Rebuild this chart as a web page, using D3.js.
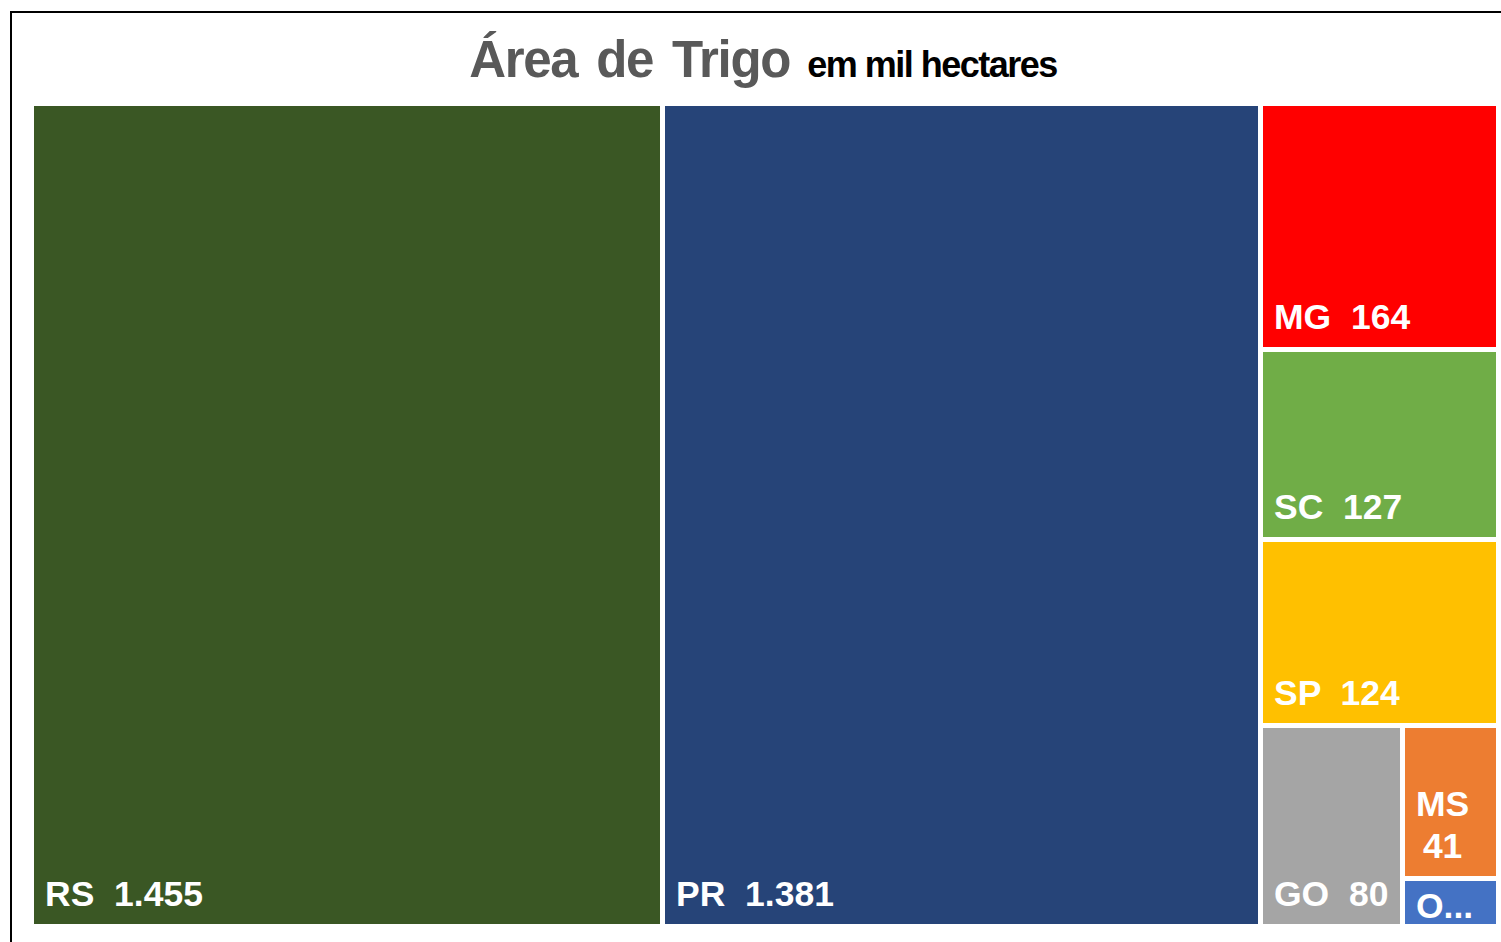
<!DOCTYPE html>
<html>
<head>
<meta charset="utf-8">
<script src="https://cdn.jsdelivr.net/npm/d3@7"></script>
<style>
  html, body { margin: 0; padding: 0; background: #fff; overflow: hidden; }
  svg { display: block; }
</style>
</head>
<body>
<svg id="chart" width="1501" height="942"></svg>
<script>
// ---- data ----
const categories = ["RS", "PR", "MG", "SC", "SP", "GO", "MS", "Outros"];
const areaValues = [1455, 1381, 164, 127, 124, 80, 41, 13];
const colors = ["#3A5724", "#264478", "#FF0000", "#70AD47", "#FFC000", "#A5A5A5", "#ED7D31", "#4472C4"];
const titleMain = "Área de Trigo";
const titleSub = "em mil hectares";

const W = 1501, H = 942;
const svg = d3.select("#chart");

// frame
svg.append("rect")
  .attr("x", 11).attr("y", 12)
  .attr("width", W + 20).attr("height", H + 20)
  .attr("fill", "#fff").attr("stroke", "#000").attr("stroke-width", 2);

// title
const title = svg.append("text")
  .attr("x", 763).attr("y", 77)
  .attr("text-anchor", "middle")
  .style("font-family", "'Liberation Sans', Arial, sans-serif")
  .style("font-weight", "bold")
  .style("white-space", "pre");
title.append("tspan")
  .attr("fill", "#595959")
  .style("font-size", "51px")
  .style("letter-spacing", "-1.3px")
  .style("word-spacing", "6px")
  .text(titleMain);
title.append("tspan")
  .attr("fill", "#000")
  .style("font-size", "36px")
  .style("letter-spacing", "-1.5px")
  .text("  " + titleSub);

// treemap
const plot = { x: 34, y: 106, w: 1462, h: 818 };
const data = {
  name: "root",
  children: categories.map((c, i) => ({ name: c, value: areaValues[i], color: colors[i] }))
};
const root = d3.hierarchy(data).sum(d => d.value || 0).sort((a, b) => b.value - a.value);
d3.treemap()
  .tile(d3.treemapSquarify.ratio(1))
  .size([plot.w, plot.h])
  .paddingInner(5)
  .round(true)(root);

const g = svg.append("g").attr("transform", `translate(${plot.x},${plot.y})`);
const fmt = d3.formatLocale({ decimal: ",", thousands: ".", grouping: [3], currency: ["R$", ""] }).format(",d");

const leaves = g.selectAll("g.leaf").data(root.leaves()).join("g").attr("class", "leaf");
leaves.append("rect")
  .attr("x", d => d.x0).attr("y", d => d.y0)
  .attr("width", d => d.x1 - d.x0).attr("height", d => d.y1 - d.y0)
  .attr("fill", d => d.data.color);

const FS = 35.5, LH = 42, PADX = 11, PADB = 18, TOPBASE = 37;
leaves.each(function (d) {
  const gl = d3.select(this);
  const w = d.x1 - d.x0, h = d.y1 - d.y0;
  const avail = w - 2 * PADX;
  const mk = (s) => gl.append("text")
    .style("font-family", "'Liberation Sans', Arial, sans-serif")
    .style("font-weight", "bold")
    .style("font-size", FS + "px")
    .style("white-space", "pre")
    .attr("fill", "#fff")
    .text(s);
  const full = d.data.name + "  " + fmt(d.value);
  let t = mk(full);
  let lines;
  if (t.node().getComputedTextLength() <= avail) {
    lines = [full];
  } else {
    lines = [d.data.name, fmt(d.value)];
  }
  t.remove();
  const maxLines = Math.max(1, Math.floor((h - 2) / LH));
  if (lines.length > maxLines) lines = lines.slice(0, maxLines);
  const texts = lines.map(s => {
    let tt = mk(s);
    if (tt.node().getComputedTextLength() > avail) {
      let k = s.length - 1;
      while (k > 0) {
        tt.text(s.slice(0, k) + "...");
        if (tt.node().getComputedTextLength() <= avail) break;
        k--;
      }
    }
    return tt;
  });
  const widths = texts.map(tt => tt.node().getComputedTextLength());
  const blockW = d3.max(widths);
  const blockH = LH * texts.length;
  let firstBase;
  if (blockH + PADB + 10 <= h) firstBase = d.y1 - PADB - LH * (texts.length - 1);
  else firstBase = d.y0 + TOPBASE;
  texts.forEach((tt, i) => {
    if (texts.length > 1) tt.attr("x", d.x0 + PADX + blockW / 2).attr("text-anchor", "middle");
    else tt.attr("x", d.x0 + PADX);
    tt.attr("y", firstBase + i * LH);
  });
});
</script>
</body>
</html>
